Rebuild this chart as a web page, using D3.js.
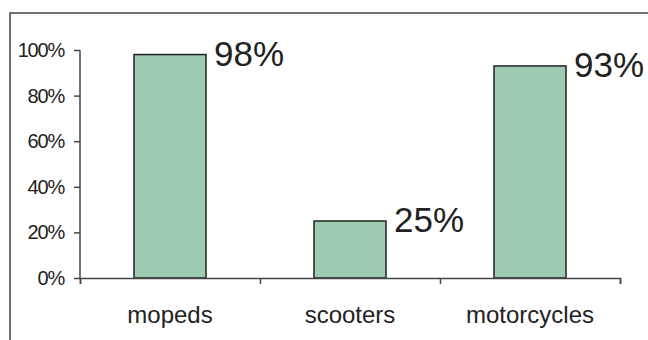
<!DOCTYPE html>
<html>
<head>
<meta charset="utf-8">
<script src="https://cdn.jsdelivr.net/npm/d3@7"></script>
<style>
    body { margin: 0; background: #fff; }
    text { font-family: "Liberation Sans", Arial, sans-serif; fill: #222; }
</style>
</head>
<body>
<div id="barChart"></div>
<script>
// chart data
const categories = ["mopeds", "scooters", "motorcycles"];
const shares = [98, 25, 93];
const yTicks = [0, 20, 40, 60, 80, 100];

function draw_bar_chart() {
    var windowWidth = 648;
    var windowHeight = 340;

    // plot area
    var left = 80, right = 620, top = 50, bottom = 278;

    var svgBase = d3.select("#barChart").append("svg")
        .attr("width", windowWidth)
        .attr("height", windowHeight);

    // outer frame (runs off the right and bottom edges)
    svgBase.append("rect")
        .attr("x", 10)
        .attr("y", 13)
        .attr("width", 700)
        .attr("height", 400)
        .attr("fill", "none")
        .attr("stroke", "#444")
        .attr("stroke-width", 1.5);

    var x = d3.scaleBand()
        .domain(categories)
        .range([left, right])
        .paddingInner(0.6)
        .paddingOuter(0.3);

    var y = d3.scaleLinear()
        .domain([0, 100])
        .range([bottom, top]);

    // bars
    svgBase.selectAll(".bar")
        .data(categories)
        .enter().append("rect")
        .attr("class", "bar")
        .attr("x", d => x(d))
        .attr("y", (d, i) => y(shares[i]))
        .attr("width", x.bandwidth())
        .attr("height", (d, i) => bottom - y(shares[i]))
        .attr("fill", "#9dcbb2")
        .attr("stroke", "#222")
        .attr("stroke-width", 1.5);

    // value labels to the right of each bar
    svgBase.selectAll(".bar_txt")
        .data(categories)
        .enter().append("text")
        .attr("class", "bar_txt")
        .attr("x", d => x(d) + x.bandwidth() + 8)
        .attr("y", (d, i) => y(shares[i]) + 11)
        .style("font-size", "35px")
        .text((d, i) => shares[i] + "%");

    // y axis
    var yAxis = svgBase.append("g")
        .attr("transform", "translate(" + left + ",0)")
        .call(d3.axisLeft(y)
            .tickValues(yTicks)
            .tickFormat(d => d + "%")
            .tickSize(6)
            .tickPadding(10));
    yAxis.select(".domain").attr("stroke", "#444").attr("stroke-width", 1.5).attr("d", "M0," + top + "V" + bottom);
    yAxis.selectAll(".tick line").attr("stroke", "#444").attr("stroke-width", 1.5);
    yAxis.selectAll("text")
        .style("font-size", "20px")
        .style("font-family", "'Liberation Sans', Arial, sans-serif")
        .attr("fill", "#222")
        .attr("letter-spacing", "-1.2px");

    // x axis: ticks at category boundaries
    var xb = d3.scaleLinear()
        .domain([0, categories.length])
        .range([left, right]);
    var xAxis = svgBase.append("g")
        .attr("transform", "translate(0," + bottom + ")")
        .call(d3.axisBottom(xb)
            .ticks(categories.length)
            .tickFormat("")
            .tickSize(6)
            .tickSizeOuter(6));
    xAxis.select(".domain").attr("stroke", "#444").attr("stroke-width", 1.5);
    xAxis.selectAll(".tick line").attr("stroke", "#444").attr("stroke-width", 1.5);

    // category labels
    svgBase.selectAll(".xlabel")
        .data(categories)
        .enter().append("text")
        .attr("class", "xlabel")
        .attr("x", d => x(d) + x.bandwidth() / 2)
        .attr("y", 323)
        .attr("text-anchor", "middle")
        .style("font-size", "24px")
        .text(d => d);
}

draw_bar_chart();
</script>
</body>
</html>
